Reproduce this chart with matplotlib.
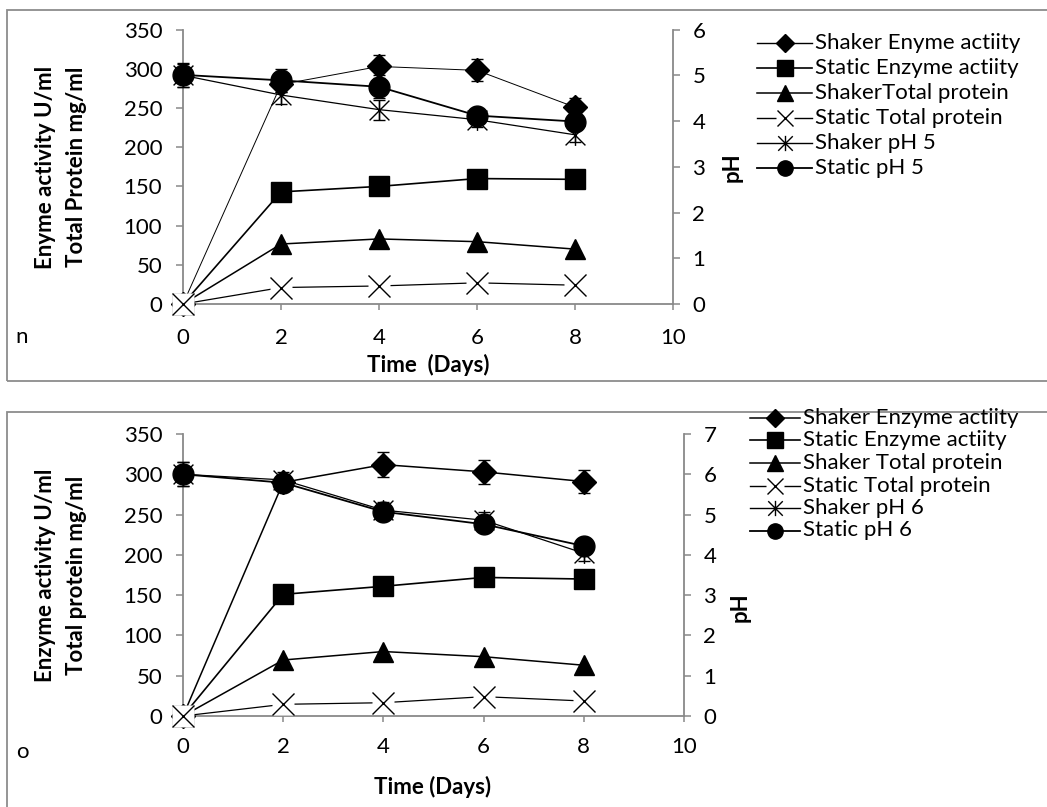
import matplotlib
matplotlib.use("Agg")
import matplotlib.pyplot as plt
from matplotlib.path import Path
from matplotlib.patches import Rectangle
from matplotlib.lines import Line2D

plt.rcParams['font.family'] = ['Lato', 'DejaVu Sans']

# ---------------- data ----------------
days = [0, 2, 4, 6, 8]

# Panel n (pH 5)
n_shaker_enzyme = [0, 280, 303, 298, 251]
n_shaker_enzyme_err = [0, 10, 15, 14, 12]
n_static_enzyme = [0, 143, 150, 160, 159]
n_shaker_protein = [0, 76.5, 83, 79.5, 70]
n_static_protein = [0, 21, 23, 27, 24]
n_shaker_ph = [5.0, 4.57, 4.25, 4.03, 3.70]
n_shaker_ph_err = [0.25, 0.2, 0.22, 0.15, 0.15]
n_static_ph = [5.01, 4.89, 4.75, 4.12, 3.99]
n_static_ph_err = [0.26, 0.25, 0.25, 0.15, 0.15]
n_labels = ["Shaker Enyme actiity", "Static Enzyme actiity", "ShakerTotal protein",
            "Static Total protein", "Shaker pH 5", "Static pH 5"]

# Panel o (pH 6)
o_shaker_enzyme = [0, 290, 312, 303, 291]
o_shaker_enzyme_err = [0, 10, 15.5, 15, 14.5]
o_static_enzyme = [0, 151, 161, 172, 170]
o_shaker_protein = [0, 69.5, 80, 73.6, 63]
o_static_protein = [0, 14.5, 16.5, 24, 18.6]
o_shaker_ph = [6.0, 5.86, 5.11, 4.86, 4.04]
o_shaker_ph_err = [0.3, 0.2, 0.2, 0.2, 0.2]
o_static_ph = [6.0, 5.79, 5.07, 4.76, 4.22]
o_static_ph_err = [0.3, 0.2, 0.2, 0.2, 0.2]
o_labels = ["Shaker Enzyme actiity", "Static Enzyme actiity", "Shaker Total protein",
            "Static Total protein", "Shaker pH 6", "Static pH 6"]

x_ticks = [0, 2, 4, 6, 8, 10]
left_ticks = [0, 50, 100, 150, 200, 250, 300, 350]

# ---------------- layout helpers ----------------
W, H = 1047, 807
fig = plt.figure(figsize=(W / 100, H / 100), dpi=100)


def fx(px):
    return px / W


def fy(py):
    return 1 - py / H


GRAY = '#898989'
FS = 16

# asterisk marker: an x with a vertical bar through it
ASTERISK = Path([(-1, -1), (1, 1), (-1, 1), (1, -1), (0, -1.05), (0, 1.05)],
                [Path.MOVETO, Path.LINETO, Path.MOVETO, Path.LINETO, Path.MOVETO, Path.LINETO])

# marker styles per series (plot size, legend size)
STYLES = [
    dict(marker='D', ms=12, lms=9, mfc='black'),
    dict(marker='s', ms=15, lms=11, mfc='black'),
    dict(marker='^', ms=15, lms=11, mfc='black'),
    dict(marker='x', ms=15.5, lms=11, mfc='black', box=True),
    dict(marker=ASTERISK, ms=15, lms=11, mfc='none'),
    dict(marker='o', ms=15, lms=11, mfc='black'),
]


def panel_frame(top, bottom):
    rect = Rectangle((fx(7), fy(bottom)), fx(1060) - fx(7), fy(top) - fy(bottom),
                     transform=fig.transFigure, fill=False, edgecolor='#8c8c8c',
                     linewidth=1.3, clip_on=False, zorder=0)
    fig.add_artist(rect)


def style_axes(ax, axr, ph_max, xpad):
    ax.spines['top'].set_visible(False)
    axr.spines['top'].set_visible(False)
    for s in ['left', 'bottom']:
        ax.spines[s].set_color(GRAY)
        ax.spines[s].set_linewidth(1.3)
        axr.spines[s].set_visible(False)
    ax.spines['right'].set_visible(False)
    axr.spines['right'].set_color(GRAY)
    axr.spines['right'].set_linewidth(1.3)
    ax.set_xlim(0, 10)
    ax.set_ylim(0, 350)
    axr.set_ylim(0, ph_max)
    ax.set_xticks(x_ticks)
    ax.set_yticks(left_ticks)
    axr.set_yticks(range(0, ph_max + 1))
    ax.tick_params(axis='x', direction='out', length=4, width=1.1, color=GRAY,
                   labelsize=FS, pad=xpad)
    ax.tick_params(axis='y', direction='out', length=5, width=1.1, color=GRAY,
                   labelsize=FS, pad=10)
    axr.tick_params(axis='y', direction='out', length=5, width=1.1, color=GRAY,
                    labelsize=FS, pad=9)
    ax.patch.set_visible(False)
    axr.patch.set_visible(False)


def draw_series(ax, axr, sh_enz, sh_enz_err, st_enz, sh_prot, st_prot,
                sh_ph, sh_ph_err, st_ph, st_ph_err, enz_lw):
    lws = [enz_lw, 1.2, 1.1, 0.9, 0.9, 1.3]
    # Shaker enzyme activity
    ax.errorbar(days, sh_enz, yerr=sh_enz_err, fmt='none', ecolor='black',
                elinewidth=1.0, capsize=4.5, capthick=1.0, zorder=3, clip_on=False)
    s = STYLES[0]
    ax.plot(days, sh_enz, color='black', lw=lws[0], marker=s['marker'], ms=s['ms'],
            mfc='black', mec='black', zorder=3, clip_on=False)
    # Static enzyme activity
    s = STYLES[1]
    ax.plot(days, st_enz, color='black', lw=lws[1], marker=s['marker'], ms=s['ms'],
            mfc='black', mec='black', zorder=4, clip_on=False)
    # Shaker total protein
    s = STYLES[2]
    ax.plot(days, sh_prot, color='black', lw=lws[2], marker=s['marker'], ms=s['ms'],
            mfc='black', mec='black', zorder=5, clip_on=False)
    # Static total protein: x marker on a white box
    s = STYLES[3]
    ax.plot(days, st_prot, color='black', lw=lws[3], zorder=6, clip_on=False)
    ax.plot(days, st_prot, linestyle='none', marker='s', ms=s['ms'], mfc='white',
            mec='none', zorder=6, clip_on=False)
    ax.plot(days, st_prot, linestyle='none', marker='x', ms=s['ms'], mew=1.0,
            color='black', zorder=6, clip_on=False)
    # Shaker pH
    s = STYLES[4]
    axr.errorbar(days, sh_ph, yerr=sh_ph_err, fmt='none', ecolor='black',
                 elinewidth=1.0, capsize=4.5, capthick=1.0, zorder=3, clip_on=False)
    axr.plot(days, sh_ph, color='black', lw=lws[4], marker=s['marker'], ms=s['ms'],
             mew=1.0, mfc='none', mec='black', zorder=3, clip_on=False)
    # Static pH
    s = STYLES[5]
    axr.errorbar(days, st_ph, yerr=st_ph_err, fmt='none', ecolor='black',
                 elinewidth=1.0, capsize=4.5, capthick=1.0, zorder=4, clip_on=False)
    axr.plot(days, st_ph, color='black', lw=lws[5], marker=s['marker'], ms=s['ms'],
             mfc='black', mec='black', zorder=4, clip_on=False)
    return lws


def key(labels, lws, x0, x1, xt, y0, dy):
    for i, (lab, lw, s) in enumerate(zip(labels, lws, STYLES)):
        y = fy(y0 + i * dy)
        fig.add_artist(Line2D([fx(x0), fx(x1)], [y, y], transform=fig.transFigure,
                              color='black', lw=max(lw, 1.0)))
        xm = fx((x0 + x1) / 2)
        if s.get('box'):
            fig.add_artist(Line2D([xm], [y], transform=fig.transFigure, marker='s',
                                  ms=s['lms'] + 2, mfc='white', mec='none',
                                  linestyle='none'))
        fig.add_artist(Line2D([xm], [y], transform=fig.transFigure, marker=s['marker'],
                              ms=s['lms'], mfc=s['mfc'], mec='black', mew=1.0,
                              linestyle='none'))
        fig.text(fx(xt), y, lab, ha='left', va='center', fontsize=FS)


# ---------------- panel n ----------------
panel_frame(10, 381)
ax1 = fig.add_axes([fx(183), fy(304), fx(673) - fx(183), fy(29.6) - fy(304)])
ax1r = ax1.twinx()
style_axes(ax1, ax1r, 6, 13)
lw1 = draw_series(ax1, ax1r, n_shaker_enzyme, n_shaker_enzyme_err, n_static_enzyme,
                  n_shaker_protein, n_static_protein, n_shaker_ph, n_shaker_ph_err,
                  n_static_ph, n_static_ph_err, 0.7)
fig.text(fx(61), fy(167), "Enyme activity U/ml\nTotal Protein mg/ml", rotation=90,
         ha='center', va='center', fontsize=FS, fontweight='bold', linespacing=1.55)
fig.text(fx(732), fy(167), "pH", rotation=90, ha='center', va='center',
         fontsize=FS, fontweight='bold')
fig.text(fx(428), fy(365), "Time  (Days)", ha='center', va='center',
         fontsize=FS, fontweight='bold')
fig.text(fx(22), fy(337), "n", ha='center', va='center', fontsize=FS)
key(n_labels, lw1, 757, 812, 815, 43, 25)

# ---------------- panel o ----------------
panel_frame(412, 830)
ax2 = fig.add_axes([fx(183), fy(716), fx(684) - fx(183), fy(434) - fy(716)])
ax2r = ax2.twinx()
style_axes(ax2, ax2r, 7, 11)
lw2 = draw_series(ax2, ax2r, o_shaker_enzyme, o_shaker_enzyme_err, o_static_enzyme,
                  o_shaker_protein, o_static_protein, o_shaker_ph, o_shaker_ph_err,
                  o_static_ph, o_static_ph_err, 1.1)
fig.text(fx(61), fy(575), "Enzyme activity U/ml\nTotal protein mg/ml", rotation=90,
         ha='center', va='center', fontsize=FS, fontweight='bold', linespacing=1.55)
fig.text(fx(740), fy(607), "pH", rotation=90, ha='center', va='center',
         fontsize=FS, fontweight='bold')
fig.text(fx(433), fy(787), "Time (Days)", ha='center', va='center',
         fontsize=FS, fontweight='bold')
fig.text(fx(22), fy(752), "o", ha='center', va='center', fontsize=FS)
key(o_labels, lw2, 750, 800, 803, 418, 22.5)

fig.savefig("out.png", dpi=100)
